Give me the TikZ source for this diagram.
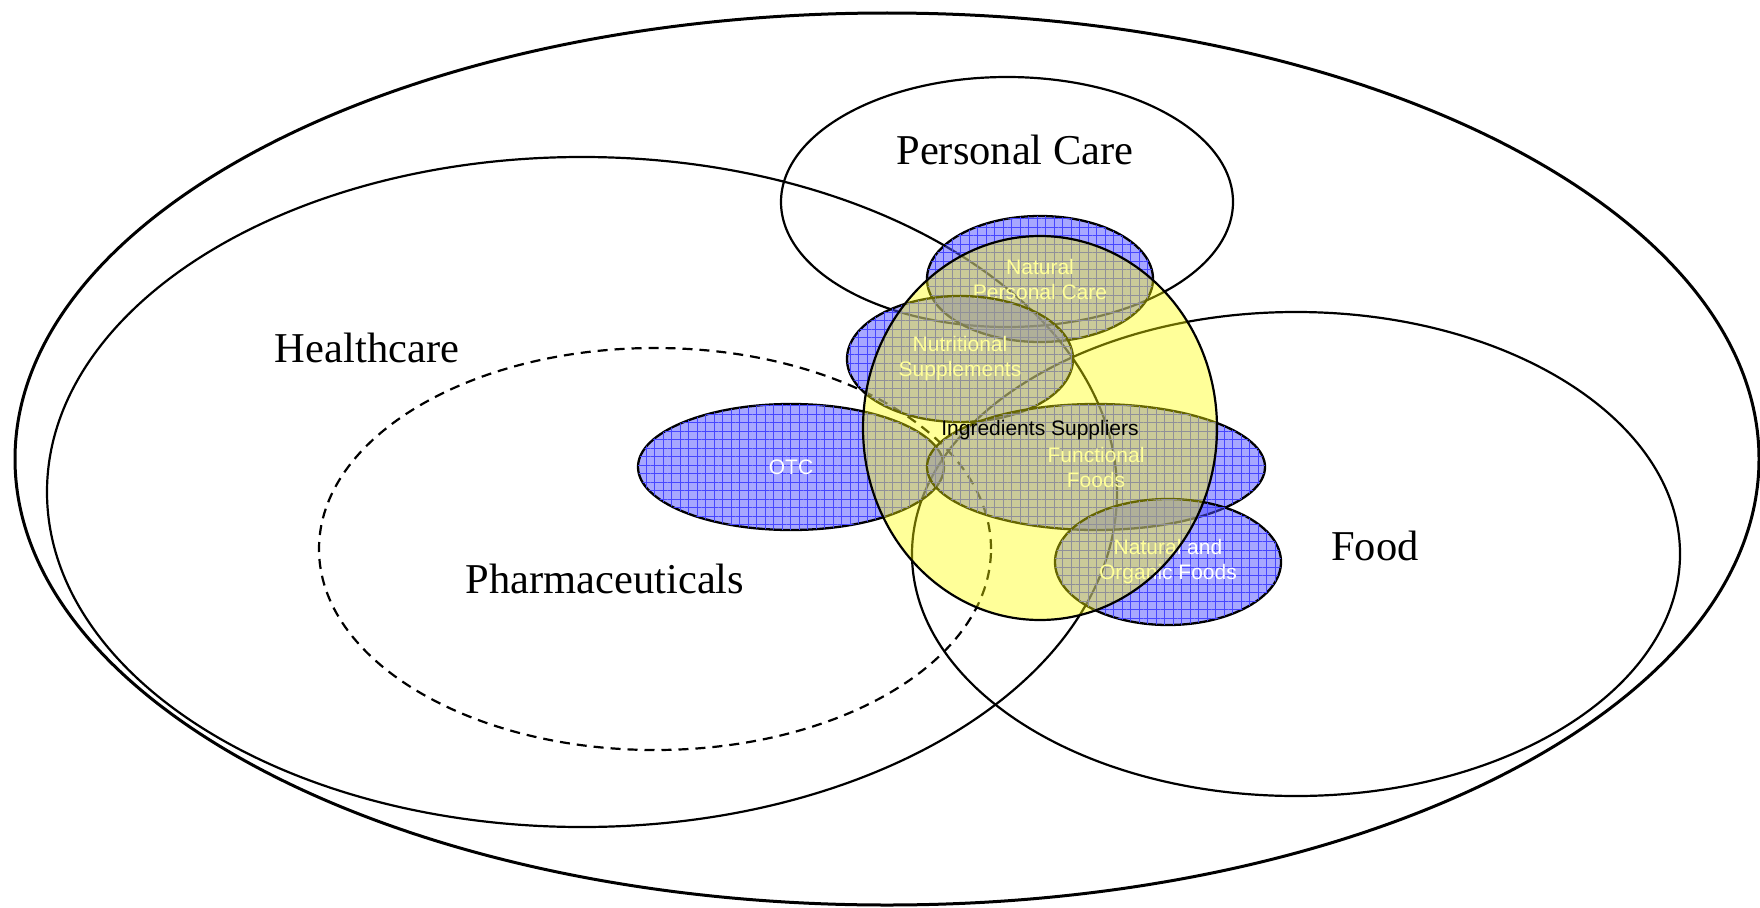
\documentclass[tikz,border=0pt]{standalone}
\usepackage{fontspec}
\setmainfont{Liberation Serif}
\newfontfamily\arialf{Liberation Sans}
\usetikzlibrary{shapes.geometric,patterns.meta}
\definecolor{blueFill}{RGB}{80,80,255}
\definecolor{gridBlue}{RGB}{70,70,255}
\definecolor{ingYellow}{RGB}{255,255,0}
\begin{document}
\begin{tikzpicture}[x=1pt,y=-1pt,
  big/.style={ellipse, draw=black, line width=2.2pt, inner sep=0pt},
  blueov/.style={ellipse, draw=black, line width=2.3pt, fill=blueFill, fill opacity=0.5,
    text opacity=1, text=white, inner sep=0pt, align=center,
    font=\arialf\fontsize{21}{25}\selectfont,
    postaction={pattern={Hatch[angle=0,distance=8.5pt,line width=0.6pt]}, pattern color=gridBlue}},
  lab/.style={font=\fontsize{42.5}{50}\selectfont, inner sep=0pt},
  sanslab/.style={font=\arialf\fontsize{21}{25}\selectfont, inner sep=0pt, align=center}]
\useasboundingbox (0,0) rectangle (1760,907);
% large outlines
\node[big, line width=3pt, minimum width=1744pt, minimum height=892pt] (outer) at (887,459) {};
\node[big, minimum width=1070pt, minimum height=670pt] (health) at (582,492) {};
\node[big, minimum width=452pt, minimum height=250pt] (pcare) at (1007,202) {};
\node[big, minimum width=768pt, minimum height=484pt] (food) at (1296,554) {};
\node[big, dash pattern=on 10pt off 7pt, minimum width=672pt, minimum height=402pt] (pharma) at (655,549) {};
% big labels
\node[lab] (lPC) at (1015,150) {Personal Care};
\node[lab] (lHC) at (367,348) {Healthcare};
\node[lab] (lPh) at (605,579) {Pharmaceuticals};
\node[lab] (lFood) at (1375,546) {Food};
% blue ovals
\node[blueov, minimum width=306pt, minimum height=126pt] (otc) at (791,467) {OTC};
\node[blueov, minimum width=226pt, minimum height=126pt] (npc) at (1040,279) {Natural\\Personal Care};
\node[blueov, minimum width=226pt, minimum height=126pt] (nsup) at (960,359) {Nutritional\\Supplements};
\node[blueov, minimum width=338pt, minimum height=126pt] (ff) at (1096,467) {Functional\\Foods};
\node[blueov, minimum width=226pt, minimum height=126pt] (nof) at (1168,562) {Natural and\\Organic Foods};
% ingredients suppliers
\node[ellipse, draw=black, line width=2.2pt, fill=ingYellow, fill opacity=0.4, inner sep=0pt,
  minimum width=354pt, minimum height=384pt] (ing) at (1040,428) {};
\node[sanslab] (ingl) at (1040,430) {Ingredients Suppliers};
\end{tikzpicture}
\end{document}
